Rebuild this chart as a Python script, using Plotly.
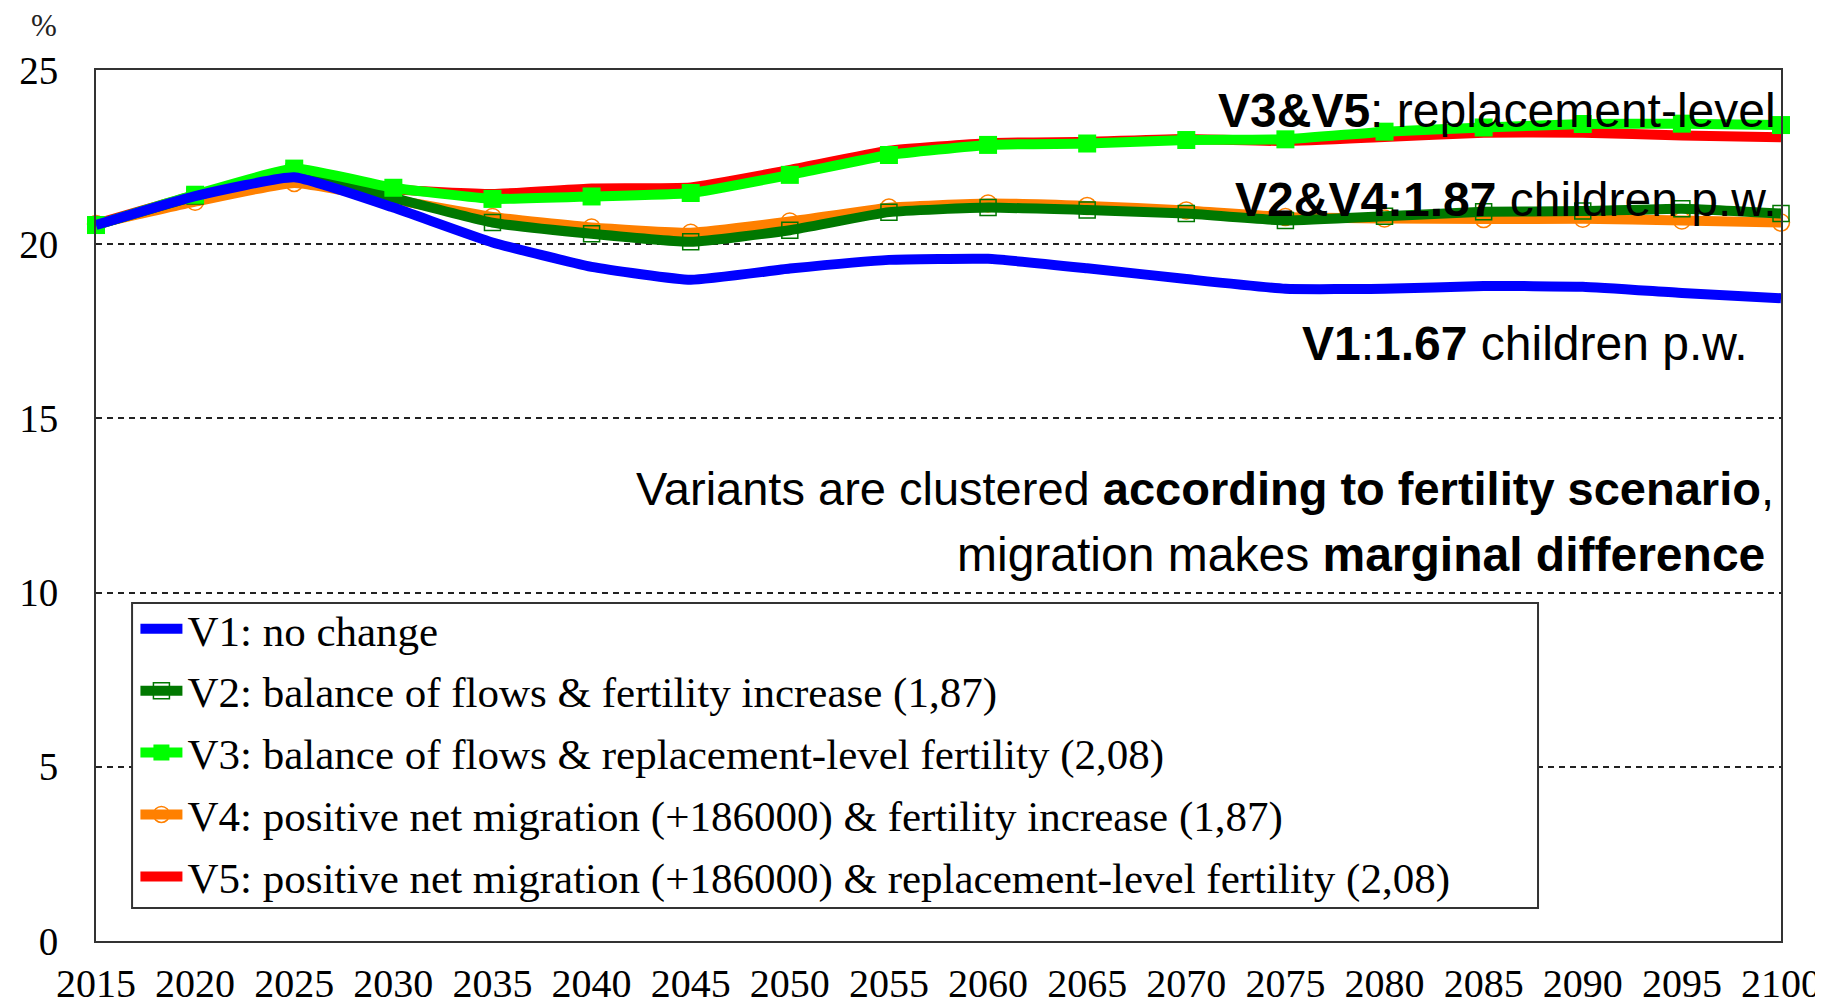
import plotly.graph_objects as go

# 5-year points, share in %
years = list(range(2015, 2101, 5))
v1 = [20.55, 21.38, 21.92, 21.05, 20.05, 19.35, 18.98, 19.30, 19.55, 19.58, 19.31, 19.00, 18.72, 18.72, 18.80, 18.78, 18.60, 18.45]
v2 = [20.55, 21.38, 22.07, 21.33, 20.62, 20.30, 20.07, 20.40, 20.92, 21.05, 20.98, 20.88, 20.68, 20.80, 20.93, 20.95, 21.02, 20.88]
v3 = [20.55, 21.42, 22.17, 21.62, 21.30, 21.37, 21.47, 21.99, 22.56, 22.85, 22.89, 22.99, 23.01, 23.23, 23.35, 23.45, 23.46, 23.42]
v4 = [20.58, 21.22, 21.76, 21.28, 20.78, 20.48, 20.33, 20.65, 21.05, 21.17, 21.10, 20.97, 20.78, 20.74, 20.72, 20.73, 20.68, 20.62]
v5 = [20.58, 21.40, 22.12, 21.58, 21.44, 21.60, 21.63, 22.13, 22.68, 22.90, 22.94, 23.02, 22.96, 23.08, 23.20, 23.20, 23.12, 23.07]

names = ["V1: no change",
         "V2: balance of flows & fertility increase (1,87)",
         "V3: balance of flows & replacement-level fertility (2,08)",
         "V4: positive net migration (+186000) & fertility increase (1,87)",
         "V5: positive net migration (+186000) & replacement-level fertility (2,08)"]

SERIF = "Times New Roman, Liberation Serif, serif"
SANS = "Arial, Liberation Sans, sans-serif"
SHAPE = dict(shape="spline", smoothing=0.4)

fig = go.Figure()
# drawing order: red, orange, dark green, green, blue on top
fig.add_trace(go.Scatter(x=years, y=v5, name=names[4], mode="lines", legendrank=5, legendgroup="v5",
                         line=dict(color="#ff0000", width=10, **SHAPE), cliponaxis=False))
fig.add_trace(go.Scatter(x=years, y=v4, name=names[3], mode="lines+markers", legendrank=4, legendgroup="v4",
                         line=dict(color="#ff8000", width=10, **SHAPE), cliponaxis=False,
                         marker=dict(symbol="circle-open", size=17, color="#ff8000", line=dict(width=1.5))))
fig.add_trace(go.Scatter(x=years, y=v2, name=names[1], mode="lines+markers", legendrank=2, legendgroup="v2",
                         line=dict(color="#007800", width=10, **SHAPE), cliponaxis=False,
                         marker=dict(symbol="square-open", size=16, color="#007800", line=dict(width=1.5))))
fig.add_trace(go.Scatter(x=years, y=v3, name=names[2], mode="lines+markers", legendrank=3, legendgroup="v3",
                         line=dict(color="#00ff00", width=10, **SHAPE), cliponaxis=False,
                         marker=dict(symbol="square", size=18, color="#00ff00")))
fig.add_trace(go.Scatter(x=years, y=v1, name=names[0], mode="lines", legendrank=1, legendgroup="v1",
                         line=dict(color="#0000ff", width=10, **SHAPE), cliponaxis=False))

# frame of the legend box (white, covers the gridlines)
fig.add_shape(type="rect", xref="paper", yref="paper", x0=0.0214, x1=0.8558, y0=0.0379, y1=0.388,
              line=dict(color="#333333", width=2), fillcolor="white", layer="above")

note_font = dict(family=SANS, size=48, color="black")
fig.add_annotation(x=2100, y=23.85, xref="x", yref="y", xanchor="right", yanchor="middle", xshift=-3,
                   text="<b>V3&V5</b>: replacement-level", showarrow=False, font=note_font)
fig.add_annotation(x=2100, y=21.27, xref="x", yref="y", xanchor="right", yanchor="middle", xshift=-2,
                   text="<b>V2&V4:1.87</b> children p.w.", showarrow=False, font=note_font)
fig.add_annotation(x=2100, y=17.15, xref="x", yref="y", xanchor="right", yanchor="middle", xshift=-31,
                   text="<b>V1</b>:<b>1.67</b> children p.w.", showarrow=False, font=note_font)
fig.add_annotation(x=2100, y=13.0, xref="x", yref="y", xanchor="right", yanchor="middle", xshift=-5,
                   text="Variants are clustered <b>according to fertility scenario</b>,", showarrow=False,
                   font=dict(family=SANS, size=47, color="black"))
fig.add_annotation(x=2100, y=11.08, xref="x", yref="y", xanchor="right", yanchor="middle", xshift=-14,
                   text="migration makes <b>marginal difference</b>", showarrow=False,
                   font=dict(family=SANS, size=48, color="black"))
fig.add_annotation(x=-0.031, y=1.051, xref="paper", yref="paper", xanchor="center", yanchor="middle",
                   text="%", showarrow=False, font=dict(family=SERIF, size=31, color="#222222"))

# the page has an 8px body margin, so the figure is offset by 8px
fig.update_layout(
    width=1815, height=998,
    margin=dict(l=88, r=42, t=62, b=65),
    paper_bgcolor="white", plot_bgcolor="white",
    showlegend=True,
    legend=dict(x=0.0234, y=0.398, xanchor="left", yanchor="top", tracegroupgap=3,
                bgcolor="rgba(0,0,0,0)", borderwidth=0, itemwidth=42,
                font=dict(family=SERIF, size=43, color="black")),
    xaxis=dict(range=[2015, 2100], tickvals=years, showgrid=False, zeroline=False, automargin=False,
               showline=True, mirror=True, linecolor="#333333", linewidth=2,
               ticks="", ticklabelstandoff=6,
               tickfont=dict(family=SERIF, size=40, color="black")),
    yaxis=dict(range=[0, 25], tickvals=[0, 5, 10, 15, 20, 25], showgrid=True, automargin=False,
               gridcolor="#222222", gridwidth=1.5, griddash="6px,5px", zeroline=False,
               showline=True, mirror=True, linecolor="#333333", linewidth=2,
               ticks="", ticklabelstandoff=28,
               tickfont=dict(family=SERIF, size=39, color="black")),
)

fig.write_html("out.html")
